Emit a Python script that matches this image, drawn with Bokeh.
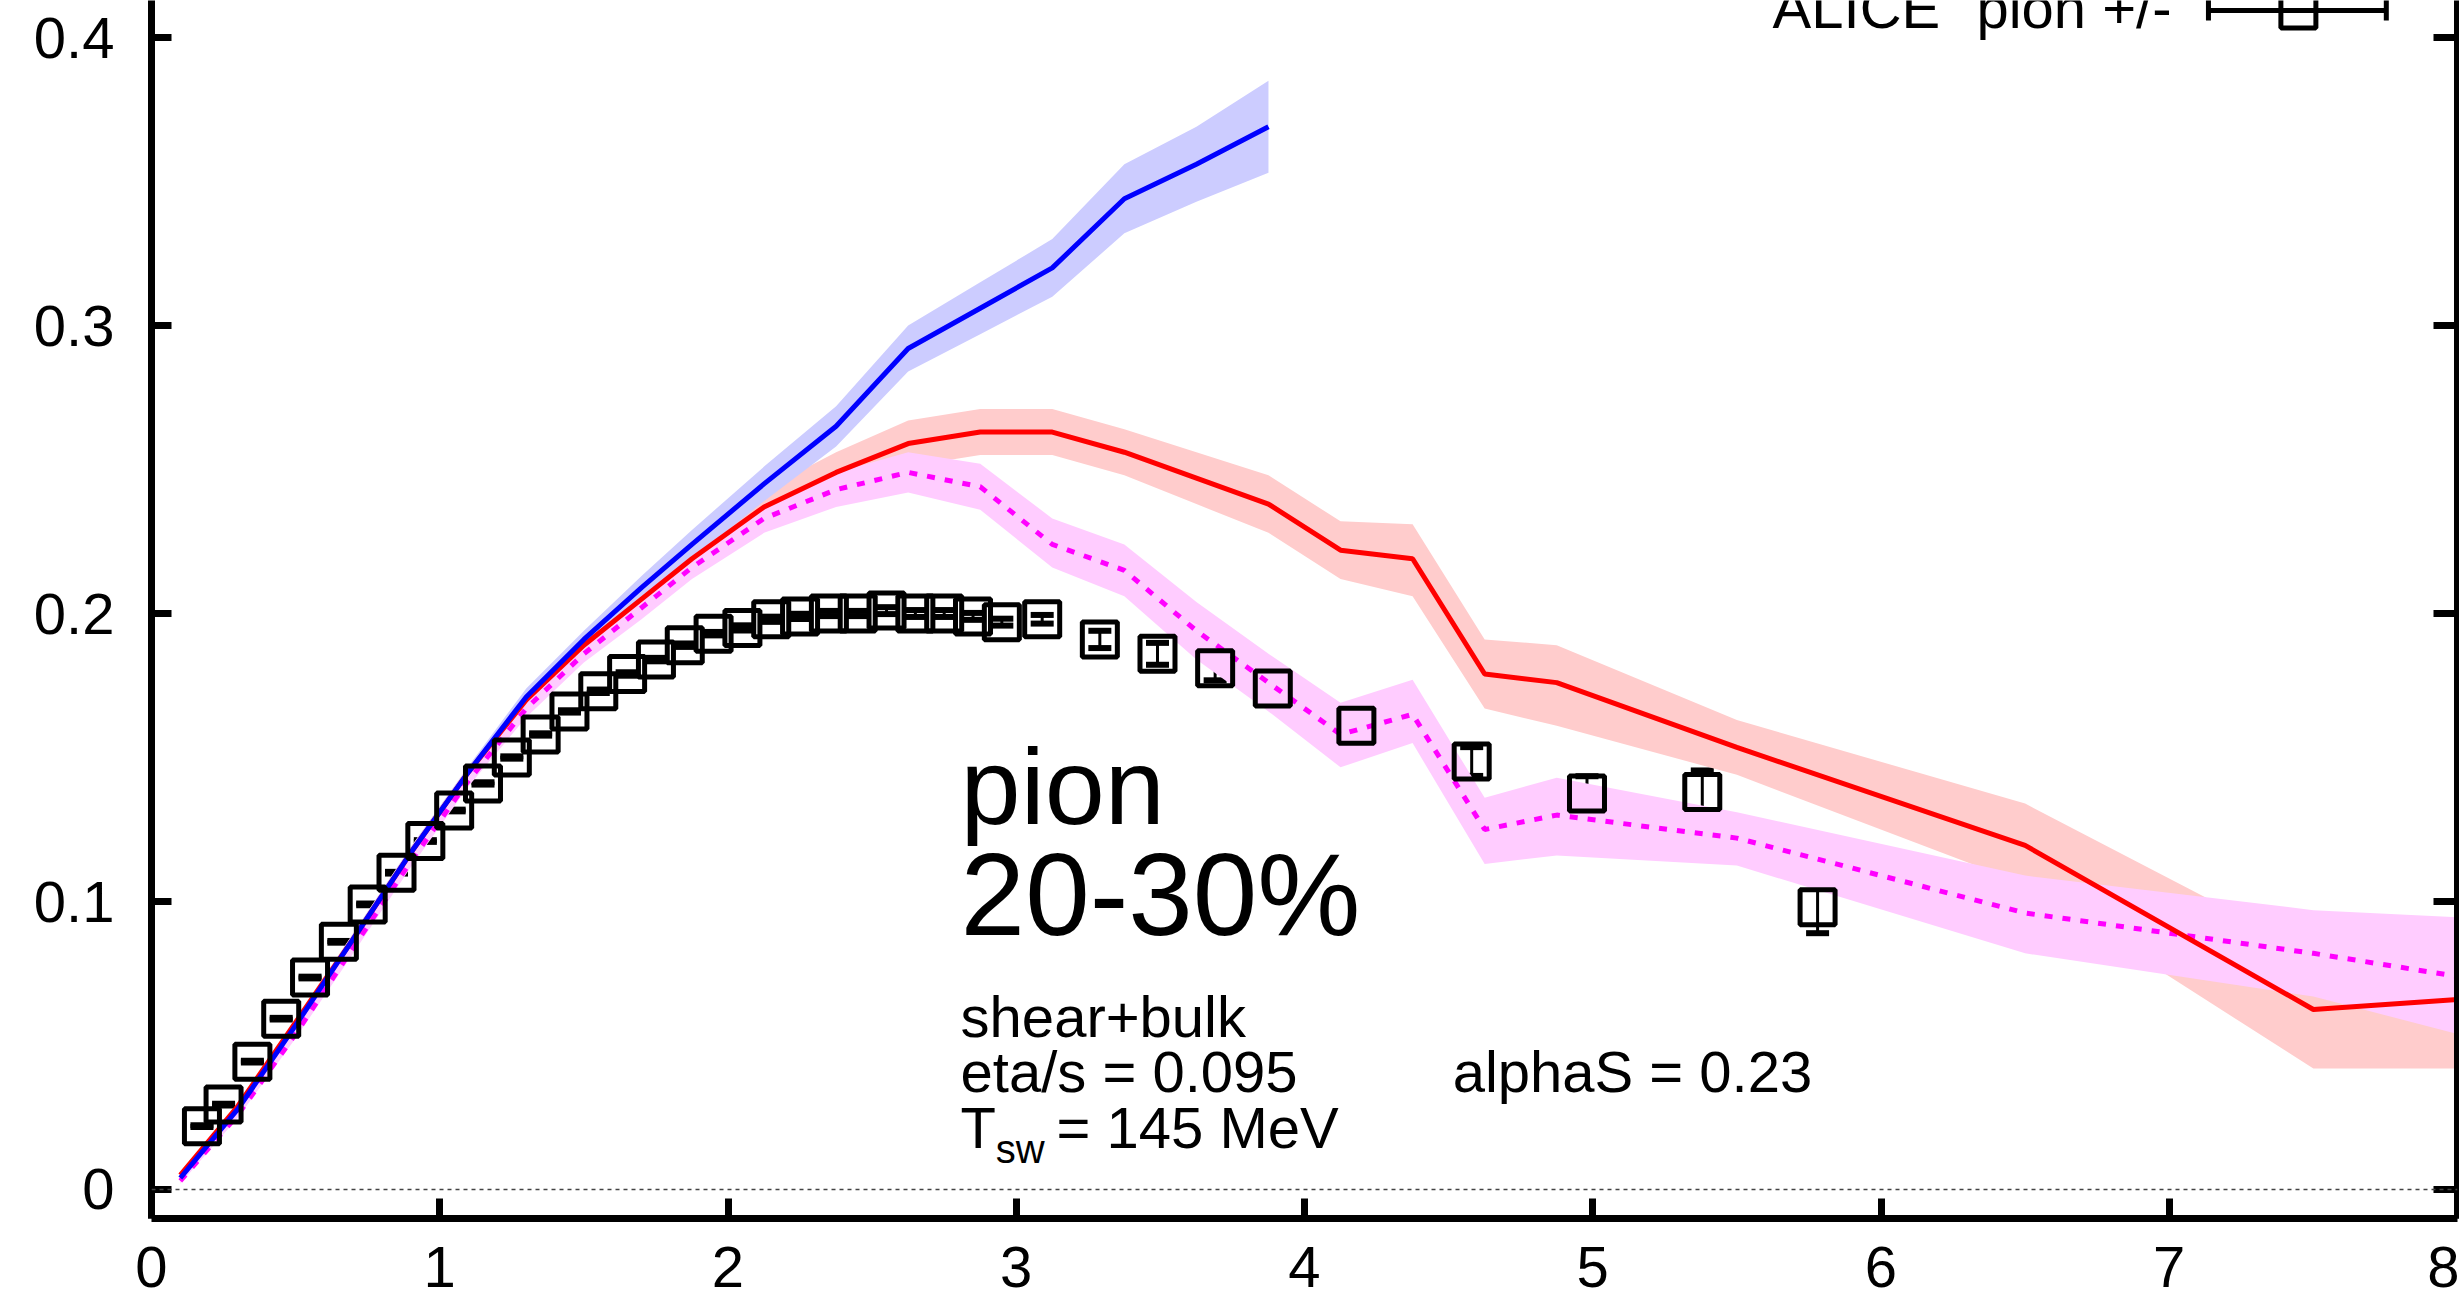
from bokeh.plotting import figure
from bokeh.models import (Range1d, LinearAxis, Span, Whisker, ColumnDataSource, TeeHead,
                          FixedTicker, CustomJSTickFormatter)
from bokeh.core.properties import value
from bokeh.embed import file_html
from bokeh.resources import INLINE

# ---------------- data ----------------
x_ticks = [0, 1, 2, 3, 4, 5, 6, 7, 8]
y_ticks = [0, 0.1, 0.2, 0.3, 0.4]

# theory pT grid
theory_x = [0.1, 0.3, 0.5, 0.7, 0.9, 1.1, 1.3, 1.5, 1.7, 1.875, 2.125, 2.375, 2.625,
            2.875, 3.125, 3.375, 3.625, 3.875, 4.125, 4.375, 4.625, 4.875, 5.5, 6.5, 7.5, 8.0]

# blue (ends at 3.875)
blue_x = theory_x[:18]
blue_y = [0.004, 0.028, 0.057, 0.087, 0.117, 0.145, 0.171, 0.191, 0.209, 0.224, 0.245,
          0.265, 0.292, 0.306, 0.320, 0.344, 0.356, 0.369]
blue_lo = [0.003, 0.027, 0.0555, 0.085, 0.115, 0.143, 0.168, 0.188, 0.205, 0.219, 0.239,
           0.258, 0.284, 0.297, 0.310, 0.332, 0.343, 0.353]
blue_hi = [0.005, 0.029, 0.0585, 0.089, 0.119, 0.147, 0.174, 0.194, 0.213, 0.229, 0.251,
           0.272, 0.300, 0.315, 0.330, 0.356, 0.369, 0.385]

red_y = [0.005, 0.029, 0.058, 0.087, 0.117, 0.145, 0.170, 0.189, 0.205, 0.219, 0.237, 0.249,
         0.259, 0.263, 0.263, 0.256, 0.247, 0.238, 0.222, 0.219, 0.179, 0.176, 0.1535,
         0.1195, 0.0625, 0.066]
red_lo = [0.004, 0.028, 0.0565, 0.085, 0.115, 0.143, 0.167, 0.186, 0.201, 0.214, 0.231, 0.242,
          0.251, 0.255, 0.255, 0.248, 0.238, 0.228, 0.212, 0.206, 0.167, 0.161, 0.144, 0.106,
          0.042, 0.042]
red_hi = [0.006, 0.030, 0.0595, 0.089, 0.119, 0.147, 0.173, 0.192, 0.209, 0.224, 0.243, 0.256,
          0.267, 0.271, 0.271, 0.264, 0.256, 0.248, 0.232, 0.231, 0.191, 0.189, 0.163, 0.134,
          0.082, 0.076]

mag_y = [0.003, 0.026, 0.054, 0.084, 0.114, 0.142, 0.167, 0.186, 0.202, 0.216, 0.233, 0.243,
         0.249, 0.244, 0.224, 0.215, 0.194, 0.176, 0.158, 0.165, 0.125, 0.130, 0.122, 0.096,
         0.082, 0.074]
mag_lo = [0.002, 0.025, 0.0525, 0.082, 0.112, 0.140, 0.164, 0.183, 0.198, 0.212, 0.228, 0.237,
          0.242, 0.236, 0.216, 0.206, 0.184, 0.166, 0.1466, 0.155, 0.113, 0.116, 0.1125, 0.082,
          0.067, 0.054]
mag_hi = [0.004, 0.027, 0.0555, 0.086, 0.116, 0.144, 0.170, 0.189, 0.206, 0.220, 0.238, 0.249,
          0.256, 0.252, 0.233, 0.224, 0.204, 0.186, 0.169, 0.177, 0.136, 0.143, 0.131, 0.109,
          0.097, 0.0945]

# ALICE pion +/- data
data_x = [0.175, 0.25, 0.35, 0.45, 0.55, 0.65, 0.75, 0.85, 0.95, 1.05, 1.15, 1.25, 1.35, 1.45,
          1.55, 1.65, 1.75, 1.85, 1.95, 2.05, 2.15, 2.25, 2.35, 2.45, 2.55, 2.65, 2.75, 2.85,
          2.95, 3.09, 3.29, 3.49, 3.69, 3.89, 4.18, 4.58, 4.98, 5.38, 5.78]
data_y = [0.022, 0.0295, 0.0444, 0.0593, 0.0736, 0.086, 0.099, 0.110, 0.121, 0.1316, 0.141,
          0.150, 0.158, 0.166, 0.173, 0.179, 0.184, 0.189, 0.193, 0.195, 0.198, 0.199, 0.200,
          0.200, 0.201, 0.200, 0.200, 0.199, 0.197, 0.198, 0.191, 0.186, 0.181, 0.174, 0.161,
          0.1486, 0.1375, 0.138, 0.098]
data_err = [0.0003] * 10 + [0.0004] * 4 + [0.0006] * 5 + [0.0009] * 5 + [0.0012] * 5 + \
           [0.0015, 0.003, 0.0038, 0.0042, 0.004, 0.004, 0.005, 0.006, 0.0075, 0.009]

legend_words = ["ALICE", "pion +/-"]
FONT = "Liberation Sans"

# ---------------- figure ----------------
p = figure(width=2459, height=1312, x_range=Range1d(0, 8), y_range=Range1d(-0.01007, 0.41285),
           output_backend="svg", toolbar_location=None,
           min_border_left=151, min_border_right=2, min_border_top=0, min_border_bottom=94)
p.outline_line_color = None
p.grid.visible = False
p.background_fill_color = "white"
p.border_fill_color = "white"

right_axis = LinearAxis()
p.add_layout(right_axis, "right")

for ax in [p.xaxis[0], p.yaxis[0], right_axis]:
    ax.axis_line_width = 7
    ax.axis_line_color = "black"
    ax.major_tick_line_width = 7
    ax.major_tick_line_color = "black"
    ax.major_tick_in = 20
    ax.major_tick_out = 0
    ax.minor_tick_line_color = None
    ax.major_label_text_font = FONT
    ax.major_label_text_font_size = "58px"
    ax.major_label_text_color = "black"

p.xaxis[0].ticker = FixedTicker(ticks=x_ticks)
p.xaxis[0].major_label_standoff = 28
p.yaxis[0].ticker = FixedTicker(ticks=y_ticks)
p.yaxis[0].major_label_standoff = 37
p.yaxis[0].major_label_overrides = {0: "0"}
right_axis.ticker = FixedTicker(ticks=y_ticks)
right_axis.major_tick_in = 24
right_axis.formatter = CustomJSTickFormatter(code="return '';")
right_axis.major_label_standoff = 0

p.add_layout(Span(location=0, dimension="width", line_color="#444444", line_width=1.5,
                  line_dash="4 4"))

# bands
p.varea(x=theory_x, y1=red_lo, y2=red_hi, fill_color="#FFCCCC")
p.varea(x=blue_x, y1=blue_lo, y2=blue_hi, fill_color="#CCCCFF")
p.varea(x=theory_x, y1=mag_lo, y2=mag_hi, fill_color="#FFCCFF")

# lines
p.line(theory_x, mag_y, line_color="#FF00FF", line_width=5, line_dash="8 10")
p.line(theory_x, red_y, line_color="#FF0000", line_width=5)
p.line(blue_x, blue_y, line_color="#0000FF", line_width=5)

# data points
src = ColumnDataSource(dict(x=data_x, y=data_y,
                            lower=[y - e for y, e in zip(data_y, data_err)],
                            upper=[y + e for y, e in zip(data_y, data_err)]))
p.add_layout(Whisker(source=src, base="x", lower="lower", upper="upper", dimension="height",
                     line_width=3, line_color="black",
                     upper_head=TeeHead(size=23, line_width=6, line_color="black"),
                     lower_head=TeeHead(size=23, line_width=6, line_color="black")))
p.scatter("x", "y", source=src, marker="square", size=35, line_width=5,
          line_color="black", fill_color=None)

# legend (partially cut at the top like the original)
p.text(x=[5.624, 6.331], y=[0.4103, 0.4103], text=legend_words, text_font=value(FONT),
       text_font_size="58px", text_align="left", text_baseline="alphabetic", text_color="black")
p.segment(x0=[7.136], y0=[0.4094], x1=[7.753], y1=[0.4094], line_width=5, line_color="black")
p.segment(x0=[7.136, 7.753], y0=[0.4059, 0.4059], x1=[7.136, 7.753], y1=[0.416, 0.416],
          line_width=5, line_color="black")
p.scatter(x=[7.448], y=[0.4094], marker="square", size=35, line_width=5,
          line_color="black", fill_color=None)

# annotations
def txt(x, y, s, size):
    p.text(x=[x], y=[y], text=[s], text_font=value(FONT), text_font_size=size,
           text_align="left", text_baseline="alphabetic", text_color="black")

txt(2.807, 0.1399, "pion", "108px")
txt(2.807, 0.1021, "20-30%", "116px")
txt(2.807, 0.0599, "shear+bulk", "58px")
txt(2.807, 0.0409, "eta/s = 0.095", "58px")
txt(4.514, 0.0409, "alphaS = 0.23", "58px")
txt(2.807, 0.0214, "T", "58px")
txt(2.929, 0.0140, "sw", "40px")
txt(3.14, 0.0214, "= 145 MeV", "58px")

open("out.html", "w").write(file_html(p, INLINE))
